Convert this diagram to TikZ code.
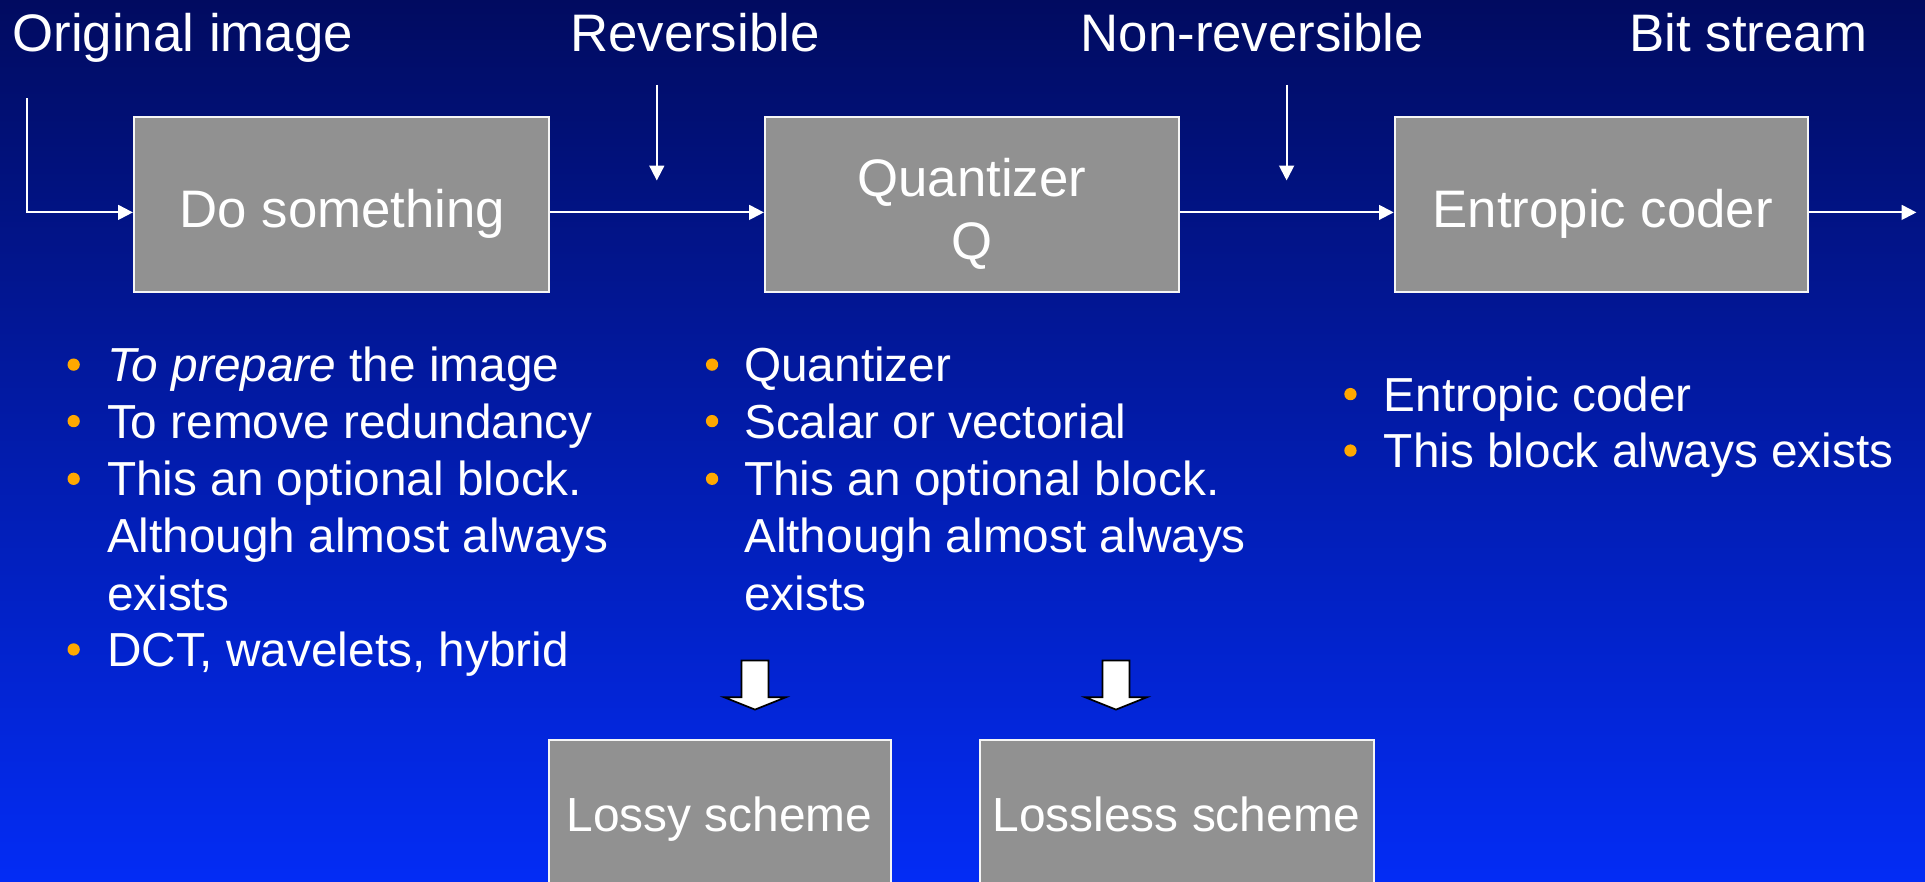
\documentclass[tikz,border=0pt]{standalone}
\usepackage{fontspec}
\setmainfont{Liberation Sans}
\usetikzlibrary{arrows.meta}
\definecolor{bgtop}{RGB}{1,11,96}
\definecolor{bgmid}{RGB}{3,30,178}
\definecolor{bgbot}{RGB}{3,44,245}
\definecolor{boxgray}{RGB}{145,145,145}
\definecolor{dotorange}{RGB}{255,168,0}
\tikzset{
  blk/.style={draw=white!92!gray, line width=1.5pt, fill=boxgray, inner sep=0pt},
  big/.style={text=white, inner sep=0pt, font=\fontsize{43}{50}\selectfont},
  small/.style={text=white, inner sep=0pt, anchor=base west, font=\fontsize{38.9}{46}\selectfont},
  lowtxt/.style={text=white, inner sep=0pt, anchor=base, font=\fontsize{39}{46}\selectfont},
  dot/.style={circle, fill=dotorange, inner sep=0pt, minimum size=10pt},
  arr/.style={draw=white, line width=1.6pt, -{Triangle[length=12pt,width=12pt]}},
  fat/.style={fill=white, draw=black, line width=1.4pt, line join=miter}
}
\begin{document}
\begin{tikzpicture}[x=1pt, y=-1pt]
  % background
  \useasboundingbox (0,0) rectangle (1568,718);
  \clip (0,0) rectangle (1568,718);
  \shade[top color=bgtop, middle color=bgmid, bottom color=bgbot] (0,0) rectangle (1568,718);

  % headings
  \node[big, anchor=base west] (hOrig) at (10,42) {Original image};
  \node[big, anchor=base] (hRev) at (566,42) {Reversible};
  \node[big, anchor=base] (hNon) at (1020,42) {Non-reversible};
  \node[big, anchor=base] (hBit) at (1424,42) {Bit stream};

  % processing chain
  \node[blk, minimum width=338pt, minimum height=143pt] (ds) at (278,166.5) {};
  \node[blk, minimum width=337pt, minimum height=143pt] (qz) at (791.5,166.5) {};
  \node[blk, minimum width=337pt, minimum height=143pt] (ec) at (1304.5,166.5) {};
  \node[big, anchor=base] (dsT) at (279,185) {Do something};
  \node[big, anchor=base] (qzT1) at (791.5,160) {Quantizer};
  \node[big, anchor=base] (qzT2) at (791.5,211) {Q};
  \node[big, anchor=base] (ecT) at (1305.5,185) {Entropic coder};

  \coordinate (in) at (22,80);
  \coordinate (out) at (1561,173);
  \coordinate (rvA) at (535,69);
  \coordinate (rvB) at (535,147);
  \coordinate (nrA) at (1048,69);
  \coordinate (nrB) at (1048,147);

  \draw[arr] (in) |- ([yshift=-6.5pt]ds.west);
  \draw[arr] ([yshift=-6.5pt]ds.east) -- ([yshift=-6.5pt]qz.west);
  \draw[arr] ([yshift=-6.5pt]qz.east) -- ([yshift=-6.5pt]ec.west);
  \draw[arr] ([yshift=-6.5pt]ec.east) -- (out);
  \draw[arr] (rvA) -- (rvB);
  \draw[arr] (nrA) -- (nrB);

  % notes under the first block
  \node[dot] (a1) at (60,297) {};
  \node[small] (t1) at (87,311) {\textit{To prepare} the image};
  \node[dot] (a2) at (60,343) {};
  \node[small] (t2) at (87,357) {To remove redundancy};
  \node[dot] (a3) at (60,390) {};
  \node[small] (t3) at (87,404) {This an optional block.};
  \node[small] (t4) at (87,450) {Although almost always};
  \node[small] (t5) at (87,497) {exists};
  \node[dot] (a6) at (60,529) {};
  \node[small] (t6) at (87,543) {DCT, wavelets, hybrid};

  % notes under the quantizer
  \node[dot] (b1) at (580,297) {};
  \node[small] (u1) at (606,311) {Quantizer};
  \node[dot] (b2) at (580,343) {};
  \node[small] (u2) at (606,357) {Scalar or vectorial};
  \node[dot] (b3) at (580,390) {};
  \node[small] (u3) at (606,404) {This an optional block.};
  \node[small] (u4) at (606,450) {Although almost always};
  \node[small] (u5) at (606,497) {exists};

  % notes under the entropic coder
  \node[dot] (c1) at (1100,321) {};
  \node[small] (v1) at (1127,335) {Entropic coder};
  \node[dot] (c2) at (1100,367) {};
  \node[small] (v2) at (1127,381) {This block always exists};

  % block arrows
  \foreach \cx in {615,909}{
    \draw[fat] (\cx-11,538) -- (\cx+11,538) -- (\cx+11,568) -- (\cx+25,568)
      -- (\cx,578) -- (\cx-25,568) -- (\cx-11,568) -- cycle;
  }

  % outcome boxes
  \node[blk, minimum width=279pt, minimum height=150pt, anchor=north] (lossy) at (586.5,602) {};
  \node[blk, minimum width=321pt, minimum height=150pt, anchor=north] (lossless) at (958.5,602) {};
  \node[lowtxt] (lossyT) at (586,677) {Lossy scheme};
  \node[lowtxt] (losslessT) at (958,677) {Lossless scheme};
\end{tikzpicture}
\end{document}
